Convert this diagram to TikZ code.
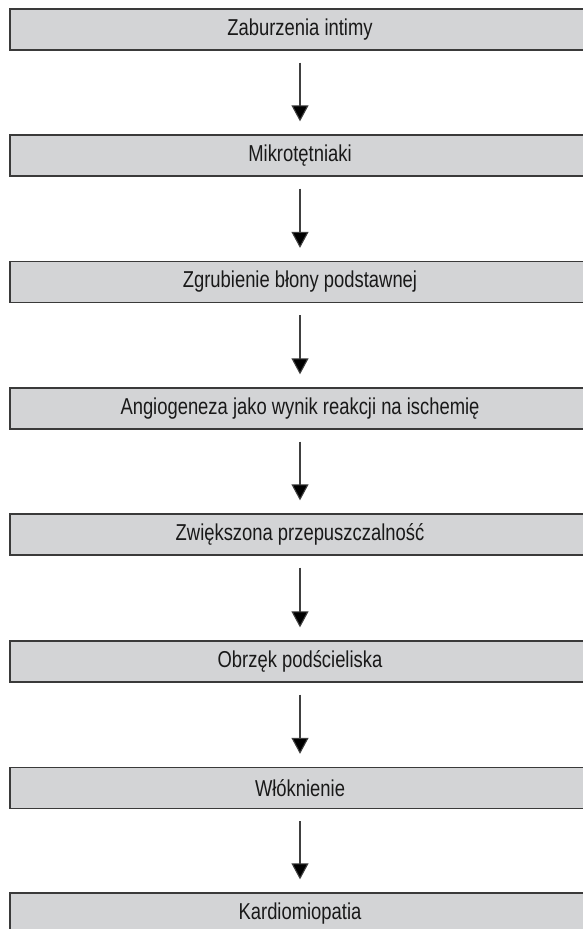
\documentclass[tikz,border=0pt]{standalone}
\usepackage{fontspec}
\setmainfont{Liberation Sans}[FakeStretch=0.80]
\usetikzlibrary{arrows.meta}
\definecolor{boxfill}{HTML}{D3D4D6}
\definecolor{boxline}{HTML}{3A3A3A}
\definecolor{arrline}{HTML}{404040}
\tikzset{
  box/.style={draw=boxline, line width=1.3pt, fill=boxfill, minimum width=580pt, minimum height=41pt, inner sep=0pt, font=\fontsize{23}{27}\selectfont, text=black!90},
  flowarrow/.style={draw=arrline, line width=1.1pt, -{Triangle[width=17pt,length=16pt,fill=black]}, shorten <=12pt, shorten >=13pt}
}
\begin{document}
\begin{tikzpicture}[x=1pt,y=-1pt]
\useasboundingbox (0,0) rectangle (583,929);
\clip (0,0) rectangle (583,929);
\node[box] (b1) at (300,29.5) {Zaburzenia intimy};
\node[box] (b2) at (300,155.5) {Mikrotętniaki};
\node[box] (b3) at (300,282) {Zgrubienie błony podstawnej};
\node[box] (b4) at (300,408.5) {Angiogeneza jako wynik reakcji na ischemię};
\node[box] (b5) at (300,534.5) {Zwiększona przepuszczalność};
\node[box] (b6) at (300,661.5) {Obrzęk podścieliska};
\node[box] (b7) at (300,788) {Włóknienie};
\node[box] (b8) at (300,913.5) {Kardiomiopatia};
\foreach \a/\b in {b1/b2,b2/b3,b3/b4,b4/b5,b5/b6,b6/b7,b7/b8}
  \draw[flowarrow] (\a.south) -- (\b.north);
\end{tikzpicture}
\end{document}
